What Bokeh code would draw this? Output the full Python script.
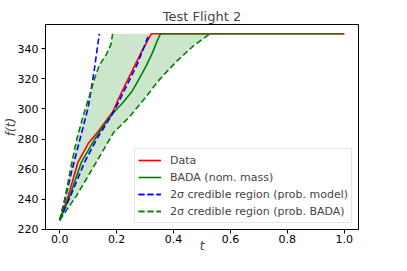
from bokeh.plotting import figure
from bokeh.models import Range1d, FixedTicker, PrintfTickFormatter, Legend, LegendItem
from bokeh.embed import file_html
from bokeh.resources import INLINE

# ---- data ----
data_t = [0.0, 0.03, 0.064, 0.10, 0.135, 0.17, 0.186, 0.209, 0.232, 0.261, 0.29, 0.322, 1.0]
data_f = [226, 242, 264.5, 277, 285, 294, 298, 307.8, 316.7, 327.8, 339, 350, 350]

bada_t = [0.0, 0.035, 0.076, 0.12, 0.155, 0.186, 0.221, 0.255, 0.279, 0.302, 0.325, 0.343, 0.354, 1.0]
bada_f = [226, 242, 264.5, 279, 289, 297, 304, 312, 320, 328, 337, 345.6, 350, 350]

pm_upper_t = [0.0, 0.02, 0.04, 0.07, 0.10, 0.12, 0.139]
pm_upper_f = [226, 241, 257, 279, 301, 324, 350]
pm_lower_t = [0.0, 0.038, 0.087, 0.13, 0.18, 0.203, 0.226, 0.25, 0.273, 0.296, 0.314]
pm_lower_f = [226, 242, 264.5, 280, 295, 303, 312, 321, 330, 341, 350]

pb_upper_t = [0.0, 0.02, 0.04, 0.06, 0.085, 0.105, 0.122, 0.139, 0.163, 0.18, 0.186]
pb_upper_f = [226, 242, 262, 280, 297, 309, 320, 329, 336, 343, 350]
pb_lower_t = [0.0, 0.058, 0.128, 0.19, 0.244, 0.302, 0.348, 0.412, 0.47, 0.528]
pb_lower_f = [226, 242, 264.5, 284.5, 294.5, 307.8, 319, 332, 342, 350]

x_ticks = [0.0, 0.2, 0.4, 0.6, 0.8, 1.0]
y_ticks = [220, 240, 260, 280, 300, 320, 340]

FONT = "DejaVu Sans"

p = figure(width=391, height=255, output_backend="svg", toolbar_location=None,
           x_range=Range1d(-0.05, 1.05), y_range=Range1d(219.8, 356.2),
           min_border_left=42, min_border_right=33, min_border_top=24, min_border_bottom=26)

p.title.text = "Test Flight 2"
p.title.align = "center"
p.title.text_font = FONT
p.title.text_font_size = "13px"
p.title.text_font_style = "normal"
p.title.standoff = 2

p.grid.visible = False
p.outline_line_color = "black"
p.outline_line_alpha = 1.0
p.outline_line_width = 1

for ax in (p.xaxis[0], p.yaxis[0]):
    ax.major_label_text_font = FONT
    ax.major_label_text_font_size = "11px"
    ax.major_label_text_color = "black"
    ax.axis_label_text_font = FONT
    ax.axis_label_text_font_size = "12px"
    ax.axis_label_text_font_style = "italic"
    ax.axis_line_color = "black"
    ax.major_tick_line_color = "black"
    ax.major_tick_out = 4
    ax.major_tick_in = 0
    ax.minor_tick_line_color = None

p.xaxis.ticker = FixedTicker(ticks=x_ticks)
p.xaxis.formatter = PrintfTickFormatter(format="%.1f")
p.yaxis.ticker = FixedTicker(ticks=y_ticks)
p.yaxis.formatter = PrintfTickFormatter(format="%d")
p.xaxis.axis_label = "t"
p.yaxis.axis_label = "f(t)"
p.xaxis.major_label_standoff = 1
p.xaxis.axis_label_standoff = -7
p.yaxis.major_label_standoff = 3
p.yaxis.axis_label_standoff = -3

# shaded credible region (prob. BADA)
poly_x = pb_upper_t + pb_lower_t[::-1]
poly_y = pb_upper_f + pb_lower_f[::-1]
p.patch(poly_x, poly_y, fill_color="#008000", fill_alpha=0.2, line_color=None)

LW = 1.6
r_data = p.line(data_t, data_f, line_color="#ff0000", line_width=LW)
r_bada = p.line(bada_t, bada_f, line_color="#008000", line_width=LW)
r_pm1 = p.line(pm_upper_t, pm_upper_f, line_color="#0000ff", line_width=LW, line_dash="6 3")
r_pm2 = p.line(pm_lower_t, pm_lower_f, line_color="#0000ff", line_width=LW, line_dash="6 3")
r_pb1 = p.line(pb_upper_t, pb_upper_f, line_color="#008000", line_width=LW, line_dash="6 3")
r_pb2 = p.line(pb_lower_t, pb_lower_f, line_color="#008000", line_width=LW, line_dash="6 3")

legend = Legend(items=[
    LegendItem(label="Data", renderers=[r_data]),
    LegendItem(label="BADA (nom. mass)", renderers=[r_bada]),
    LegendItem(label="2σ credible region (prob. model)", renderers=[r_pm1, r_pm2]),
    LegendItem(label="2σ credible region (prob. BADA)", renderers=[r_pb1, r_pb2]),
], location="bottom_right")
legend.label_text_font = FONT
legend.label_text_font_size = "11px"
legend.glyph_width = 23
legend.glyph_height = 16
legend.label_height = 16
legend.spacing = 1
legend.padding = 3
legend.margin = 6
legend.label_standoff = 9
legend.border_line_color = "#cccccc"
legend.border_line_width = 1
legend.background_fill_alpha = 0.8
p.add_layout(legend)

open("out.html", "w").write(file_html(p, INLINE))
